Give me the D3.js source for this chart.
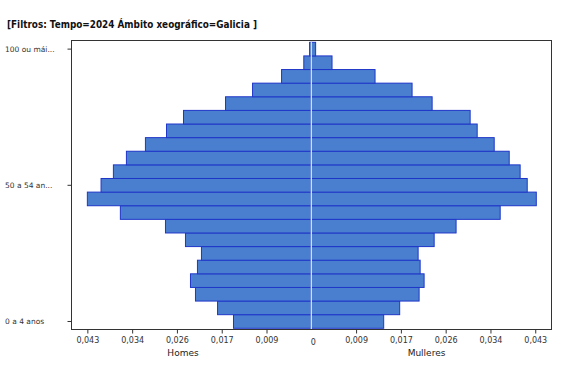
<!DOCTYPE html>
<html>
<head>
<meta charset="utf-8">
<script src="https://cdn.jsdelivr.net/npm/d3@7"></script>
<style>
  html, body { margin: 0; padding: 0; background: #fff; }
  svg { display: block; }
  text { font-family: "DejaVu Sans", Verdana, sans-serif; fill: #222; }
</style>
</head>
<body>
<script>
// ---- data ----
const ageGroups = ["0 a 4 anos", "5 a 9 anos", "10 a 14 anos", "15 a 19 anos", "20 a 24 anos",
  "25 a 29 anos", "30 a 34 anos", "35 a 39 anos", "40 a 44 anos", "45 a 49 anos",
  "50 a 54 anos", "55 a 59 anos", "60 a 64 anos", "65 a 69 anos", "70 a 74 anos",
  "75 a 79 anos", "80 a 84 anos", "85 a 89 anos", "90 a 94 anos", "95 a 99 anos",
  "100 ou máis anos"];
const homes = [0.01494, 0.0180, 0.02224, 0.0232, 0.02186, 0.02109, 0.02416, 0.0280, 0.03666, 0.0430,
  0.04037, 0.0380, 0.0355, 0.03185, 0.0278, 0.02454, 0.01647, 0.01128, 0.00571, 0.00144, 0.00033];
const mulleres = [0.0139, 0.01697, 0.0207, 0.02166, 0.0209, 0.02051, 0.02359, 0.0278, 0.03627, 0.0432,
  0.04146, 0.0401, 0.0380, 0.03512, 0.03185, 0.0305, 0.0232, 0.01935, 0.01224, 0.00398, 0.00083];
const xTickValues = [0.0086, 0.0172, 0.0258, 0.0344, 0.043];
const yTickLabels = ["100 ou máis anos", "50 a 54 anos", "0 a 4 anos"];
const seriesNames = ["Homes", "Mulleres"];
const title = "[Filtros: Tempo=2024 Ámbito xeográfico=Galicia ]";

// ---- layout ----
const W = 581, H = 370;
const frame = { left: 71.5, right: 551.5, top: 40.5, bottom: 329.5 };
const cx = 311.3;
const domainMax = 0.04614;

const svg = d3.select("body").append("svg").attr("width", W).attr("height", H);

const locale = d3.formatLocale({ decimal: ",", thousands: ".", grouping: [3], currency: ["", "€"] });
const fmt = locale.format(".3f");

const xR = d3.scaleLinear().domain([0, domainMax]).range([cx, cx + 240.3]);
const xL = d3.scaleLinear().domain([0, domainMax]).range([cx, cx - 240.3]);
const y = d3.scaleBand().domain(ageGroups.slice().reverse()).range([42.3, 328.3]).padding(0);

// title
svg.append("text").attr("x", 7).attr("y", 28)
  .attr("font-size", 10.5).attr("font-weight", "bold")
  .attr("textLength", 250).attr("lengthAdjust", "spacingAndGlyphs")
  .style("fill", "#111")
  .text(title);

const fill = "#4a7fcf", stroke = "#1f36c8";

// bars
const g = svg.append("g");
g.selectAll("rect.h").data(ageGroups).join("rect").attr("class", "h")
  .attr("x", (d, i) => xL(homes[i]))
  .attr("y", d => y(d))
  .attr("width", (d, i) => cx - xL(homes[i]))
  .attr("height", y.bandwidth())
  .attr("fill", fill).attr("stroke", stroke).attr("stroke-width", 1);
g.selectAll("rect.m").data(ageGroups).join("rect").attr("class", "m")
  .attr("x", cx)
  .attr("y", d => y(d))
  .attr("width", (d, i) => xR(mulleres[i]) - cx)
  .attr("height", y.bandwidth())
  .attr("fill", fill).attr("stroke", stroke).attr("stroke-width", 1);

// center line
svg.append("line").attr("x1", cx).attr("x2", cx).attr("y1", 41.5).attr("y2", 329)
  .attr("stroke", "#e4f0fa").attr("stroke-width", 1.2);

// frame
svg.append("rect").attr("x", frame.left).attr("y", frame.top)
  .attr("width", frame.right - frame.left).attr("height", frame.bottom - frame.top)
  .attr("fill", "none").attr("stroke", "#333").attr("stroke-width", 1);

// x axes
const axisL = d3.axisBottom(xL).tickValues(xTickValues).tickFormat(fmt).tickSize(4).tickPadding(4);
const axisR = d3.axisBottom(xR).tickValues(xTickValues).tickFormat(fmt).tickSize(4).tickPadding(4);
[axisL, axisR].forEach(ax => {
  const a = svg.append("g").attr("transform", `translate(0,${frame.bottom})`).call(ax);
  a.select(".domain").remove();
  a.selectAll("line").attr("stroke", "#333");
  a.selectAll("text").attr("font-size", 8).style("fill", "#333")
    .style("font-family", "'DejaVu Sans', Verdana, sans-serif");
});
svg.append("text").attr("x", 313.3).attr("y", 345).attr("text-anchor", "middle")
  .attr("font-size", 8).style("fill", "#333").text(fmt(0).replace(/,000$/, ""));

// series labels
svg.append("text").attr("x", 183).attr("y", 356).attr("text-anchor", "middle")
  .attr("font-size", 9).text(seriesNames[0]);
svg.append("text").attr("x", 426.5).attr("y", 356).attr("text-anchor", "middle")
  .attr("font-size", 9).text(seriesNames[1]);

// y axis ticks
const trunc = s => s.length > 10 ? s.slice(0, 10) + "..." : s;
const yAxis = d3.axisLeft(y).tickValues(yTickLabels).tickFormat(trunc).tickSize(4).tickPadding(6);
const ya = svg.append("g").attr("transform", `translate(${frame.left},0)`).call(yAxis);
ya.select(".domain").remove();
ya.selectAll("line").attr("stroke", "#333");
ya.selectAll("text").attr("text-anchor", "start").attr("x", 5 - frame.left)
  .attr("font-size", 7.5).style("fill", "#333")
  .style("font-family", "'DejaVu Sans', Verdana, sans-serif");
</script>
</body>
</html>
